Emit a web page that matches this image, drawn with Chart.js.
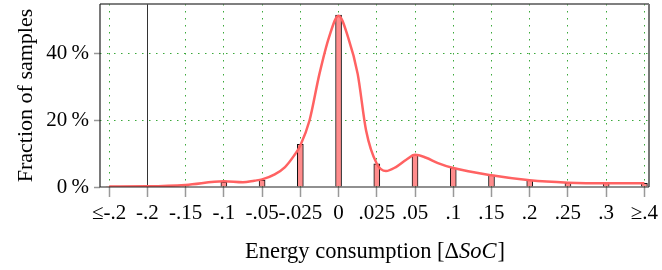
<!DOCTYPE html>
<html>
<head>
<meta charset="utf-8">
<script src="https://cdn.jsdelivr.net/npm/chart.js@4.4.0/dist/chart.umd.min.js"></script>
<style>
  html, body { margin: 0; padding: 0; background: #fff; }
  #wrap { width: 662px; height: 270px; }
</style>
</head>
<body>
<div id="wrap"><canvas id="myChart" width="662" height="270"></canvas></div>
<script>
// categories on the x axis (one bar per category)
const categories = ['≤-.2', '-.2', '-.15', '-.1', '-.05', '-.025', '0', '.025', '.05', '.1', '.15', '.2', '.25', '.3', '≥.4'];
// fraction of samples per bin, in percent
const barValues = [0, 0, 0, 1.5, 2.1, 12.8, 51.7, 7.0, 9.7, 5.7, 3.6, 2.0, 1.1, 1.1, 1.1];
// smooth density curve (position = category index)
const curvePos = [0, 1, 2, 3, 3.5, 3.8, 4, 4.33, 4.6, 4.84, 5, 5.24, 5.5, 5.75, 6, 6.25, 6.5, 6.72, 7, 7.24, 7.5, 7.77, 8, 8.29, 8.6, 9, 10, 11, 12, 13, 14];
const curveValues = [0.15, 0.2, 0.6, 1.7, 1.4, 1.9, 2.3, 3.8, 6.0, 9.5, 12.5, 20, 34, 45, 51.5, 45, 34, 17, 7, 4.8, 6, 8.2, 9.7, 8.8, 7.2, 5.7, 3.5, 2.0, 1.3, 1.1, 1.1];
const yTicks = [0, 20, 40];

const serif = "'Liberation Serif', 'DejaVu Serif', serif";

// solid line at -.2 and the frame round the plot
const framePlugin = {
  id: 'frame',
  beforeDatasetsDraw(chart) {
    const ctx = chart.ctx;
    const a = chart.chartArea;
    const x = chart.scales.x.getPixelForValue(1);
    ctx.save();
    ctx.strokeStyle = '#333';
    ctx.lineWidth = 1;
    ctx.beginPath();
    ctx.moveTo(Math.round(x) + 0.5, a.top);
    ctx.lineTo(Math.round(x) + 0.5, a.bottom);
    ctx.stroke();
    ctx.restore();
  },
  afterDatasetsDraw(chart) {
    const ctx = chart.ctx;
    const a = chart.chartArea;
    ctx.save();
    ctx.strokeStyle = '#555';
    ctx.lineWidth = 1.5;
    ctx.beginPath();
    ctx.moveTo(a.left, a.top);
    ctx.lineTo(a.right, a.top);
    ctx.stroke();
    ctx.lineWidth = 2;
    ctx.strokeStyle = '#777';
    ctx.beginPath();
    ctx.moveTo(a.right, a.top);
    ctx.lineTo(a.right, a.bottom);
    ctx.stroke();
    ctx.strokeStyle = '#222';
    ctx.lineWidth = 1.2;
    ctx.beginPath();
    ctx.moveTo(a.left, a.top);
    ctx.lineTo(a.left, a.bottom);
    ctx.lineTo(a.right, a.bottom);
    ctx.stroke();
    ctx.restore();
  }
};

// x title with italic SoC
const xTitlePlugin = {
  id: 'xTitle',
  afterDraw(chart) {
    const ctx = chart.ctx;
    const a = chart.chartArea;
    const parts = [
      ['Energy consumption [Δ', 'normal'],
      ['SoC', 'italic'],
      [']', 'normal']
    ];
    ctx.save();
    ctx.fillStyle = '#000';
    ctx.textBaseline = 'alphabetic';
    let total = 0;
    parts.forEach(p => {
      ctx.font = p[1] + ' 22.5px ' + serif;
      total += ctx.measureText(p[0]).width;
    });
    let x = (a.left + a.right) / 2 - total / 2;
    parts.forEach(p => {
      ctx.font = p[1] + ' 22.5px ' + serif;
      ctx.fillText(p[0], x, 258);
      x += ctx.measureText(p[0]).width + (p[1] === 'italic' ? 1 : 0);
    });
    ctx.restore();
  }
};

const ctx = document.getElementById('myChart');
const myChart = new Chart(ctx, {
  data: {
    datasets: [
      {
        type: 'line',
        data: curvePos.map((p, i) => ({ x: p, y: curveValues[i] })),
        borderColor: '#ff6262',
        borderWidth: 2.5,
        pointRadius: 0,
        cubicInterpolationMode: 'monotone',
        fill: false,
        order: 0
      },
      {
        type: 'bar',
        data: barValues.map((v, i) => ({ x: i, y: v })),
        backgroundColor: '#ff8c8c',
        borderColor: '#111',
        borderWidth: (c) => (c.raw && c.raw.y > 0 ? 1 : 0),
        borderSkipped: 'bottom',
        barThickness: 6,
        order: 1
      }
    ]
  },
  plugins: [framePlugin, xTitlePlugin],
  options: {
    responsive: false,
    animation: false,
    layout: { padding: { top: 4, right: 13, left: 0, bottom: 0 } },
    plugins: {
      legend: { display: false },
      tooltip: { enabled: false }
    },
    scales: {
      x: {
        type: 'linear',
        offset: false,
        min: -0.24,
        max: 14.12,
        afterBuildTicks: (scale) => {
          scale.ticks = categories.map((c, i) => ({ value: i }));
        },
        afterFit: (scale) => {
          scale.height = 83;
          scale.paddingLeft = 0;
          scale.paddingRight = 0;
        },
        ticks: {
          autoSkip: false,
          maxRotation: 0,
          padding: 4,
          color: '#000',
          font: { family: serif, size: 21 },
          callback: (v) => categories[v]
        },
        grid: {
          offset: false,
          color: (c) => (c.index === 1 ? 'rgba(0,0,0,0)' : '#3aa83a'),
          lineWidth: 1,
          tickLength: 10,
          tickColor: '#999',
          tickWidth: 1.5,
          tickBorderDash: []
        },
        border: { display: false, dash: [1.5, 5.5] }
      },
      y: {
        min: 0,
        max: 55,
        afterBuildTicks: (scale) => {
          scale.ticks = yTicks.map(v => ({ value: v }));
        },
        afterFit: (scale) => {
          scale.width = 100;
          scale.paddingTop = 0;
          scale.paddingBottom = 0;
        },
        ticks: {
          padding: 5,
          color: '#000',
          font: { family: serif, size: 21 },
          callback: (v) => v + '\u2009%'
        },
        grid: {
          color: (c) => (c.tick && c.tick.value === 0 ? 'rgba(0,0,0,0)' : '#3aa83a'),
          lineWidth: 1,
          tickLength: 6,
          tickColor: '#999',
          tickWidth: 1.5,
          tickBorderDash: []
        },
        border: { display: false, dash: [1.5, 5.5] },
        title: {
          display: true,
          text: 'Fraction of samples',
          color: '#000',
          font: { family: serif, size: 22 },
          padding: { top: 13, bottom: 0 }
        }
      }
    }
  }
});
</script>
</body>
</html>
